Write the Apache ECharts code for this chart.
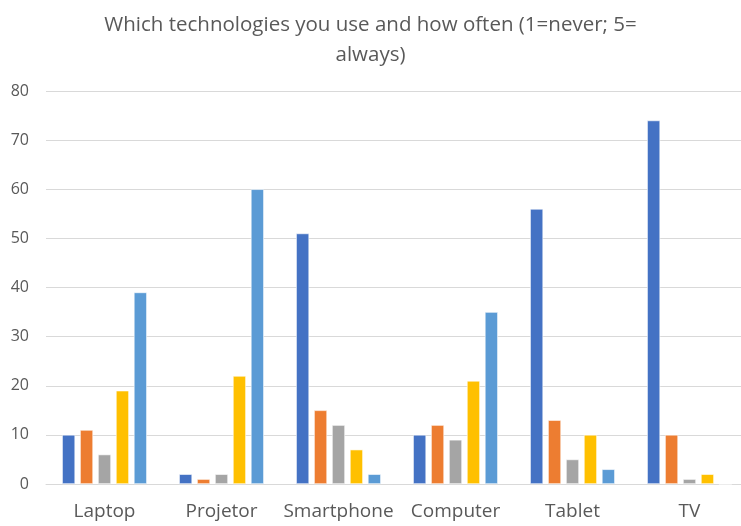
<!DOCTYPE html>
<html>
<head>
<meta charset="utf-8">
<script src="https://cdn.jsdelivr.net/npm/echarts@6/dist/echarts.min.js"></script>
<style>html,body{margin:0;padding:0;background:#fff;}#c{width:741px;height:526px;}</style>
</head>
<body>
<div id="c"></div>
<script>
const categories = ['Laptop', 'Projetor', 'Smartphone', 'Computer', 'Tablet', 'TV'];
const seriesNames = ['1', '2', '3', '4', '5'];
const s1 = [10, 2, 51, 10, 56, 74];
const s2 = [11, 1, 15, 12, 13, 10];
const s3 = [6, 2, 12, 9, 5, 1];
const s4 = [19, 22, 7, 21, 10, 2];
const s5 = [39, 60, 2, 35, 3, 0];
const yTicks = [0, 10, 20, 30, 40, 50, 60, 70, 80];
const colors = ['#4472C4', '#ED7D31', '#A5A5A5', '#FFC000', '#5B9BD5'];
const titleText = 'Which technologies you use and how often (1=never; 5=\nalways)';

const chart = echarts.init(document.getElementById('c'), null, {renderer: 'canvas'});
const allSeries = [s1, s2, s3, s4, s5];
chart.setOption({
  animation: false,
  backgroundColor: '#fff',
  title: {
    text: titleText,
    left: 'center',
    top: 5,
    textStyle: {
      fontFamily: 'Open Sans, sans-serif',
      fontSize: 20.5,
      fontWeight: 'normal',
      color: '#595959',
      lineHeight: 30
    }
  },
  grid: {left: 46, top: 91, width: 702, bottom: 42, containLabel: false, outerBoundsMode: 'none'},
  xAxis: {
    type: 'category',
    data: categories,
    axisLine: {show: true, lineStyle: {color: '#D9D9D9', width: 1}},
    axisTick: {show: false},
    axisLabel: {color: '#595959', fontSize: 19, margin: 18, interval: 0, hideOverlap: false, fontFamily: 'Open Sans, sans-serif'}
  },
  yAxis: {
    type: 'value',
    min: yTicks[0],
    max: yTicks[yTicks.length - 1],
    interval: 10,
    axisLine: {show: false},
    axisTick: {show: false},
    axisLabel: {color: '#595959', fontSize: 16, margin: 17, fontFamily: 'Open Sans, sans-serif'},
    splitLine: {lineStyle: {color: '#D9D9D9', width: 1}}
  },
  series: allSeries.map((d, i) => ({
    name: seriesNames[i],
    type: 'bar',
    data: d,
    barWidth: 13,
    barGap: '38%',
    itemStyle: {color: colors[i], borderColor: '#ffffff', borderWidth: 0.6}
  }))
});
</script>
</body>
</html>
